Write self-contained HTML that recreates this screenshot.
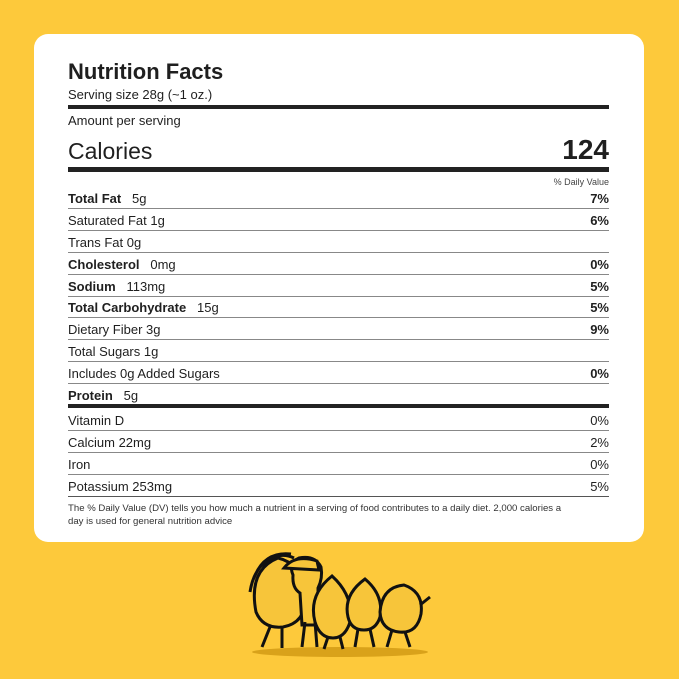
<!DOCTYPE html>
<html><head><meta charset="utf-8"><style>
body{margin:0;width:679px;height:679px;background:#fdc93b;position:relative;overflow:hidden;font-family:"Liberation Sans",sans-serif;color:#1f1f1f}
.card{position:absolute;left:34px;top:34px;width:610px;height:508px;background:#fff;border-radius:14px}
.t{position:absolute;left:68px;white-space:nowrap;line-height:1}
.r{position:absolute;right:70px;white-space:nowrap;line-height:1}
.l{position:absolute;left:68px;width:541px;background:#888;height:1px}
.h{position:absolute;left:68px;width:541px;background:#222}
b{font-weight:bold}
</style></head><body>
<div class="card"></div>
<div class="t" style="top:61px;font-size:22px;font-weight:bold">Nutrition Facts</div>
<div class="t" style="top:88px;font-size:13px">Serving size 28g (~1 oz.)</div>
<div class="h" style="top:105px;height:4px"></div>
<div class="t" style="top:114px;font-size:13px">Amount per serving</div>
<div class="t" style="top:140px;font-size:23px">Calories</div>
<div class="r" style="top:136px;font-size:28px;font-weight:bold">124</div>
<div class="h" style="top:167px;height:5px"></div>
<div class="r" style="top:178px;font-size:9px;color:#444">% Daily Value</div>

<div class="t" style="top:192px;font-size:13px"><b>Total Fat</b>&nbsp;&nbsp; 5g</div><div class="r" style="top:192px;font-size:13px"><b>7%</b></div>
<div class="l" style="top:208px"></div>
<div class="t" style="top:214px;font-size:13px">Saturated Fat 1g</div><div class="r" style="top:214px;font-size:13px"><b>6%</b></div>
<div class="l" style="top:230px"></div>
<div class="t" style="top:236px;font-size:13px">Trans Fat 0g</div>
<div class="l" style="top:252px"></div>
<div class="t" style="top:258px;font-size:13px"><b>Cholesterol</b>&nbsp;&nbsp; 0mg</div><div class="r" style="top:258px;font-size:13px"><b>0%</b></div>
<div class="l" style="top:274px"></div>
<div class="t" style="top:280px;font-size:13px"><b>Sodium</b>&nbsp;&nbsp; 113mg</div><div class="r" style="top:280px;font-size:13px"><b>5%</b></div>
<div class="l" style="top:296px"></div>
<div class="t" style="top:301px;font-size:13px"><b>Total Carbohydrate</b>&nbsp;&nbsp; 15g</div><div class="r" style="top:301px;font-size:13px"><b>5%</b></div>
<div class="l" style="top:317px"></div>
<div class="t" style="top:323px;font-size:13px">Dietary Fiber 3g</div><div class="r" style="top:323px;font-size:13px"><b>9%</b></div>
<div class="l" style="top:339px"></div>
<div class="t" style="top:345px;font-size:13px">Total Sugars 1g</div>
<div class="l" style="top:361px"></div>
<div class="t" style="top:367px;font-size:13px">Includes 0g Added Sugars</div><div class="r" style="top:367px;font-size:13px"><b>0%</b></div>
<div class="l" style="top:383px"></div>
<div class="t" style="top:389px;font-size:13px"><b>Protein</b>&nbsp;&nbsp; 5g</div>
<div class="h" style="top:404px;height:4px"></div>
<div class="t" style="top:414px;font-size:13px">Vitamin D</div><div class="r" style="top:414px;font-size:13px">0%</div>
<div class="l" style="top:430px"></div>
<div class="t" style="top:436px;font-size:13px">Calcium 22mg</div><div class="r" style="top:436px;font-size:13px">2%</div>
<div class="l" style="top:452px"></div>
<div class="t" style="top:458px;font-size:13px">Iron</div><div class="r" style="top:458px;font-size:13px">0%</div>
<div class="l" style="top:474px"></div>
<div class="t" style="top:480px;font-size:13px">Potassium 253mg</div><div class="r" style="top:480px;font-size:13px">5%</div>
<div class="h" style="top:496px;height:1px;background:#555"></div>
<div class="t" style="top:502px;font-size:9.6px;line-height:13px;width:560px;white-space:normal;color:#333">The % Daily Value (DV) tells you how much a nutrient in a serving of food contributes to a daily diet. 2,000 calories a<br>day is used for general nutrition advice</div>

<svg style="position:absolute;left:0;top:0" width="679" height="679">
<ellipse cx="340" cy="652" rx="88" ry="5" fill="#d9a21a"/>
<g stroke="#111" stroke-width="3" fill="#f7c53a">
<path d="M256 612 q-8-42 22-54 q22 5 27 32 q4 32-22 37 q-20 2-27-15z"/>
<path d="M250 592 q5-32 32-38 M254 578 q10-27 37-24 M262 566 q15-16 32-8" fill="none"/>
<path d="M293 575 q-5-12 6-17 q16-3 22 9 q2 11-3 21 l0 37 h-16 l-2-32 q-8-5-7-18z"/>
<path d="M284 568 q11-14 33-7 l2 9z"/>
<path d="M315 622 q-7-27 17-46 q22 20 18 46 q-5 16-17 16 q-13 0-18-16z"/>
<path d="M348 617 q-5-22 17-38 q19 16 15 38 q-4 13-16 13 q-13 0-16-13z"/>
<path d="M380 612 q2-25 24-27 q20 7 17 29 q-4 20-22 18 q-18-2-19-20z"/>
<path d="M270 627 l-8 20 M282 628 l0 20 M305 622 l-3 25 M315 622 l2 25 M328 637 l-4 12 M340 637 l3 12 M358 629 l-3 18 M370 629 l4 18 M392 630 l-5 17 M405 632 l5 15 M420 605 l10-8" fill="none"/>
</g>
</svg>
</body></html>
